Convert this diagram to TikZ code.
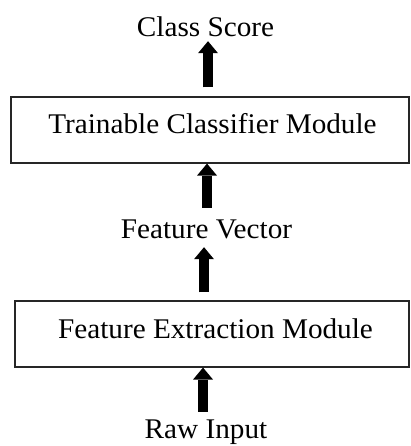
\documentclass[tikz,border=0pt]{standalone}
\usepackage{fontspec}
\setmainfont[FakeStretch=1.025]{Liberation Serif}
\usetikzlibrary{arrows.meta}
\begin{document}
\begin{tikzpicture}[x=1pt,y=-1pt,
  lbl/.style={inner sep=0pt, text height=19pt, text depth=6pt,
    font=\fontsize{28.5}{32}\selectfont},
  module/.style={draw=black!85, line width=1.2pt, minimum height=66pt,
    inner sep=0pt, text height=12pt, text depth=4pt,
    font=\fontsize{28.5}{32}\selectfont},
  bigarrow/.style={line width=10pt,
    -{Triangle[width=20pt,length=12pt,line width=0pt]}}]
\useasboundingbox (0,0) rectangle (410,446);

% labels
\node[lbl, anchor=base] (cs)  at (205.5,37)  {Class Score};
\node[lbl, anchor=base] (fv)  at (206.5,238) {Feature Vector};
\node[lbl, anchor=base] (raw) at (206,438)   {Raw Input};

% modules (text sits a little right of the box centre)
\node[module, minimum width=398pt] (tcm) at (210,130) {\kern5pt Trainable Classifier Module};
\node[module, minimum width=394pt] (fem) at (212,334) {\kern7pt Feature Extraction Module};

% data flow
\draw[bigarrow, shorten <=9pt, shorten >=-2pt] ([xshift=-2pt]tcm.north) -- ([xshift=2.5pt]cs.south);
\draw[bigarrow, shorten <=11pt] ([xshift=0.5pt]fv.north) -- ([xshift=-3pt]tcm.south);
\draw[bigarrow, shorten <=8pt, shorten >=3pt] ([xshift=-8pt]fem.north) -- ([xshift=-2.5pt]fv.south);
\draw[bigarrow, shorten <=7pt] ([xshift=-3pt]raw.north) -- ([xshift=-9pt]fem.south);
\end{tikzpicture}
\end{document}
